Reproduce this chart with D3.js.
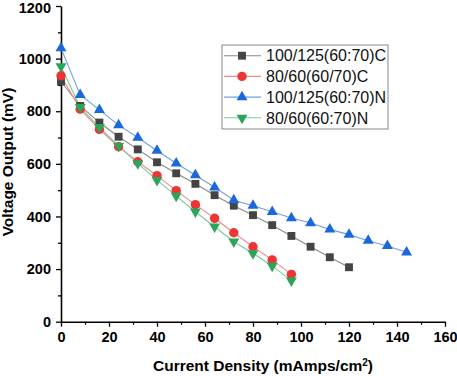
<!DOCTYPE html>
<html>
<head>
<meta charset="utf-8">
<script src="https://cdn.jsdelivr.net/npm/d3@7"></script>
<style>
  body { margin: 0; background: #fff; }
  svg { display: block; font-family: "Liberation Sans", Arial, sans-serif; }
</style>
</head>
<body>
<div id="chart"></div>
<script>
// current density (mAmps/cm2) at each measured point
const currentDensity = [0, 8, 16, 24, 32, 40, 48, 56, 64, 72, 80, 88, 96, 104, 112, 120, 128, 136, 144];

const grey_100C = [913, 820, 757, 703, 655, 606, 564, 524, 481, 441, 405, 367, 326, 285, 245, 207];
const red_80C   = [935, 808, 731, 665, 608, 555, 498, 445, 393, 338, 285, 235, 180];
const blue_100N = [1040, 862, 805, 747, 700, 650, 602, 557, 511, 462, 441, 418, 394, 375, 351, 331, 308, 288, 264];
const green_80N = [970, 815, 739, 668, 602, 538, 478, 418, 361, 304, 260, 212, 156];

const seriesNames = ["100/125(60:70)C", "80/60(60/70)C", "100/125(60:70)N", "80/60(60:70)N"];

const xTicks = [0, 20, 40, 60, 80, 100, 120, 140, 160];
const yTicks = [0, 200, 400, 600, 800, 1000, 1200];

const W = 457, H = 376;
const margin = {left: 61, top: 6, right: 12, bottom: 54};
const width = 445 - margin.left;
const height = 321.7 - margin.top;

const series = [
  {name: seriesNames[0], vals: grey_100C, line: "#8a8a8a", fill: "#444444", shape: d3.symbolSquare, size: 62, rot: 0},
  {name: seriesNames[1], vals: red_80C,   line: "#f08a8a", fill: "#ee3535", shape: d3.symbolCircle, size: 70, rot: 0},
  {name: seriesNames[2], vals: blue_100N, line: "#6e9fe8", fill: "#1a68dc", shape: d3.symbolTriangle, size: 52, rot: 0},
  {name: seriesNames[3], vals: green_80N, line: "#7cc89c", fill: "#2aa55a", shape: d3.symbolTriangle, size: 52, rot: 180}
];

const svg = d3.select("#chart").append("svg")
  .attr("width", W)
  .attr("height", H);

const g = svg.append("g")
  .attr("transform", `translate(${margin.left},${margin.top})`);

const x = d3.scaleLinear().domain([0, 160]).range([0, width]);
const y = d3.scaleLinear().domain([0, 1200]).range([height, 0]);

// minor ticks
g.append("g")
  .attr("transform", `translate(0,${height})`)
  .call(d3.axisBottom(x).tickValues(d3.range(10, 160, 20)).tickSize(3).tickFormat(""))
  .call(a => a.select(".domain").remove());
g.append("g")
  .call(d3.axisLeft(y).tickValues(d3.range(100, 1200, 200)).tickSize(3).tickFormat(""))
  .call(a => a.select(".domain").remove());

// major axes
const xAxis = g.append("g")
  .attr("transform", `translate(0,${height})`)
  .call(d3.axisBottom(x).tickValues(xTicks).tickFormat(d3.format("d")).tickSize(5).tickSizeOuter(0).tickPadding(5));
const yAxis = g.append("g")
  .call(d3.axisLeft(y).tickValues(yTicks).tickFormat(d3.format("d")).tickSize(5).tickSizeOuter(0).tickPadding(5));

[xAxis, yAxis].forEach(a => {
  a.selectAll(".domain").attr("stroke", "#000").attr("stroke-width", 1.6);
  a.selectAll("text")
    .style("font-family", "'Liberation Sans', Arial, sans-serif")
    .style("font-size", "14.5px")
    .style("font-weight", "bold")
    .attr("fill", "#000");
});
g.selectAll(".tick line").attr("stroke-width", 1.3);
// keep the top label inside the page
yAxis.selectAll(".tick text").filter(d => d === 1200).attr("dy", "0.45em");

const line = d3.line()
  .x((d, i) => x(currentDensity[i]))
  .y(d => y(d));

series.forEach(s => {
  g.append("path")
    .datum(s.vals)
    .attr("fill", "none")
    .attr("stroke", s.line)
    .attr("stroke-width", 1.1)
    .attr("d", line);
});

series.forEach(s => {
  g.selectAll(null)
    .data(s.vals)
    .join("path")
    .attr("d", d3.symbol().type(s.shape).size(s.size))
    .attr("transform", (d, i) => `translate(${x(currentDensity[i])},${y(d)}) rotate(${s.rot})`)
    .attr("fill", s.fill);
});

// axis titles
svg.append("text")
  .attr("x", margin.left + width / 2 + 10)
  .attr("y", 371)
  .attr("text-anchor", "middle")
  .style("font-size", "15.5px")
  .style("font-weight", "bold")
  .text("Current Density (mAmps/cm")
  .append("tspan").attr("baseline-shift", "super").style("font-size", "10px").text("2")
  .select(function() { return this.parentNode; })
  .append("tspan").text(")");

svg.append("text")
  .attr("transform", `translate(13,162) rotate(-90)`)
  .attr("text-anchor", "middle")
  .style("font-size", "15.5px")
  .style("font-weight", "bold")
  .text("Voltage Output (mV)");

// legend
const legend = svg.append("g").attr("transform", "translate(222,45)");
legend.append("rect")
  .attr("width", 166)
  .attr("height", 84)
  .attr("fill", "#fff")
  .attr("stroke", "#888")
  .attr("stroke-width", 1);

series.forEach((s, i) => {
  const row = legend.append("g").attr("transform", `translate(0,${10.7 + i * 20.7})`);
  row.append("line")
    .attr("x1", 2).attr("x2", 39)
    .attr("stroke", s.line).attr("stroke-width", 1.1);
  row.append("path")
    .attr("d", d3.symbol().type(s.shape).size(s.size))
    .attr("transform", `translate(20,0) rotate(${s.rot})`)
    .attr("fill", s.fill);
  row.append("text")
    .attr("x", 44)
    .attr("dy", "0.36em")
    .style("font-size", "16px")
    .attr("fill", "#111")
    .text(s.name);
});
</script>
</body>
</html>
